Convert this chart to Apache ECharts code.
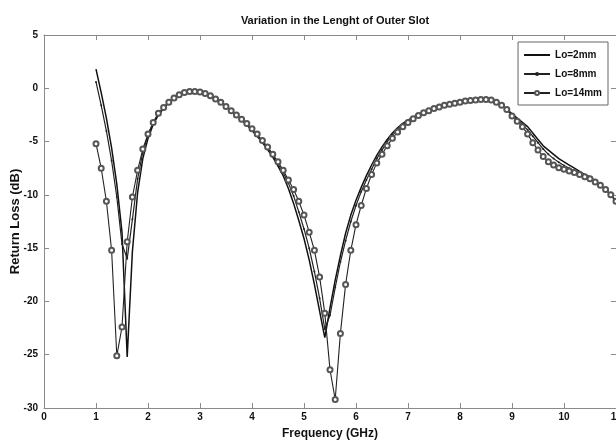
<!DOCTYPE html>
<html>
<head>
<meta charset="utf-8">
<title>Return Loss</title>
<script src="https://cdn.jsdelivr.net/npm/echarts@6/dist/echarts.min.js"></script>
<style>
html,body{margin:0;padding:0;background:#fff;}
#chart{width:616px;height:445px;}
</style>
</head>
<body>
<div id="chart"></div>
<script>
// frequency grid (GHz)
var freq = [1.0,1.1,1.2,1.3,1.4,1.5,1.6,1.7,1.8,1.9,
  2.0,2.1,2.2,2.3,2.4,2.5,2.6,2.7,2.8,2.9,
  3.0,3.1,3.2,3.3,3.4,3.5,3.6,3.7,3.8,3.9,
  4.0,4.1,4.2,4.3,4.4,4.5,4.6,4.7,4.8,4.9,
  5.0,5.1,5.2,5.3,5.4,5.5,5.6,5.7,5.8,5.9,
  6.0,6.1,6.2,6.3,6.4,6.5,6.6,6.7,6.8,6.9,
  7.0,7.1,7.2,7.3,7.4,7.5,7.6,7.7,7.8,7.9,
  8.0,8.1,8.2,8.3,8.4,8.5,8.6,8.7,8.8,8.9,
  9.0,9.1,9.2,9.3,9.4,9.5,9.6,9.7,9.8,9.9,
  10.0,10.1,10.2,10.3,10.4,10.5,10.6,10.7,10.8,10.9,11.0];

// return loss (dB)
var lo2 = [1.8,-0.4,-2.8,-5.6,-9.0,-13.5,-25.2,-15.3,-9.8,-6.6,
  -4.7,-3.4,-2.5,-1.9,-1.35,-0.9,-0.6,-0.4,-0.3,-0.3,
  -0.4,-0.55,-0.75,-1.05,-1.35,-1.75,-2.15,-2.55,-3.0,-3.45,
  -3.95,-4.5,-5.1,-5.75,-6.45,-7.3,-8.2,-9.4,-10.8,-12.4,
  -14.1,-16.1,-18.4,-20.9,-23.4,-20.6,-18.0,-15.7,-13.6,-11.9,
  -10.5,-9.3,-8.2,-7.2,-6.3,-5.5,-4.8,-4.2,-3.7,-3.3,
  -3.0,-2.7,-2.45,-2.25,-2.05,-1.9,-1.75,-1.6,-1.5,-1.4,
  -1.3,-1.22,-1.15,-1.1,-1.05,-1.05,-1.1,-1.3,-1.6,-1.95,
  -2.4,-2.8,-3.2,-3.6,-4.2,-4.8,-5.4,-5.8,-6.2,-6.6,
  -6.9,-7.2,-7.5,-7.8,-8.1,-8.3,-8.7,-9.1,-9.5,-10.0,-10.6];

var lo8 = [0.6,-1.6,-4.0,-6.8,-10.2,-14.6,-16.0,-12.3,-8.5,-6.0,
  -4.4,-3.2,-2.4,-1.8,-1.3,-0.9,-0.6,-0.4,-0.3,-0.3,
  -0.38,-0.52,-0.72,-1.0,-1.3,-1.7,-2.1,-2.5,-2.95,-3.4,
  -3.9,-4.4,-5.0,-5.6,-6.3,-7.1,-7.9,-8.9,-10.1,-11.6,
  -13.2,-15.0,-17.2,-19.7,-22.6,-21.3,-18.7,-16.3,-14.3,-12.5,
  -11.0,-9.7,-8.6,-7.6,-6.6,-5.8,-5.0,-4.4,-3.9,-3.45,
  -3.1,-2.8,-2.55,-2.3,-2.1,-1.9,-1.75,-1.6,-1.5,-1.4,
  -1.3,-1.22,-1.15,-1.1,-1.05,-1.05,-1.1,-1.3,-1.6,-2.0,
  -2.5,-2.95,-3.4,-3.9,-4.5,-5.1,-5.7,-6.2,-6.6,-6.95,
  -7.25,-7.5,-7.75,-8.0,-8.2,-8.45,-8.75,-9.1,-9.5,-10.0,-10.6];

var lo14 = [-5.2,-7.5,-10.6,-15.2,-25.1,-22.4,-14.4,-10.2,-7.7,-5.7,
  -4.3,-3.2,-2.35,-1.8,-1.3,-0.9,-0.6,-0.4,-0.3,-0.3,
  -0.35,-0.5,-0.7,-1.0,-1.3,-1.7,-2.1,-2.5,-2.9,-3.3,
  -3.8,-4.3,-4.9,-5.5,-6.2,-6.9,-7.7,-8.6,-9.5,-10.6,
  -11.9,-13.5,-15.2,-17.7,-21.1,-26.4,-29.2,-23.0,-18.4,-15.2,
  -12.8,-11.0,-9.4,-8.1,-7.0,-6.2,-5.4,-4.7,-4.1,-3.6,
  -3.2,-2.85,-2.55,-2.3,-2.1,-1.9,-1.75,-1.6,-1.5,-1.4,
  -1.3,-1.2,-1.15,-1.1,-1.05,-1.05,-1.1,-1.3,-1.6,-2.0,
  -2.6,-3.1,-3.6,-4.3,-5.1,-5.8,-6.4,-6.9,-7.2,-7.45,
  -7.6,-7.75,-7.9,-8.1,-8.3,-8.5,-8.8,-9.1,-9.5,-10.0,-10.6];

var names = ['Lo=2mm', 'Lo=8mm', 'Lo=14mm'];

function pairs(vals) {
  return freq.map(function (f, i) { return [f, vals[i]]; });
}

var font = "'Liberation Sans', Arial, sans-serif";
var axisGray = '#8a8a8a';

var myChart = echarts.init(document.getElementById('chart'));

var option = {
  backgroundColor: '#fff',
  animation: false,
  title: {
    text: 'Variation in the Lenght of Outer Slot',
    left: 330,
    top: 10,
    textAlign: 'center',
    textStyle: { fontFamily: font, fontSize: 11, fontWeight: 'bold', color: '#111' }
  },
  legend: {
    data: [
      { name: names[0], itemStyle: { opacity: 0 } },
      { name: names[1] },
      { name: names[2] }
    ],
    orient: 'vertical',
    right: 8,
    top: 42,
    itemWidth: 26,
    itemHeight: 5,
    itemGap: 9,
    padding: [8, 6, 7, 5],
    borderColor: '#666',
    borderWidth: 1,
    backgroundColor: '#fff',
    textStyle: { fontFamily: font, fontSize: 10, fontWeight: 'bold', color: '#111' }
  },
  grid: { left: 44, right: 0, top: 35, bottom: 37, outerBoundsMode: 'none' },
  xAxis: [{
    type: 'value',
    min: 0, max: 11, interval: 1,
    name: 'Frequency (GHz)',
    nameLocation: 'middle',
    nameGap: 20,
    nameTextStyle: { fontFamily: font, fontSize: 12, fontWeight: 'bold', color: '#111' },
    axisLine: { onZero: false, lineStyle: { color: axisGray, width: 1 } },
    axisTick: { inside: true, length: 5, lineStyle: { color: axisGray } },
    axisLabel: { fontFamily: font, fontSize: 10, fontWeight: 'bold', color: '#111', margin: 4 },
    splitLine: { show: false }
  }, {
    type: 'value',
    position: 'top',
    min: 0, max: 11, interval: 1,
    axisLine: { onZero: false, lineStyle: { color: axisGray, width: 1 } },
    axisTick: { inside: true, length: 5, lineStyle: { color: axisGray } },
    axisLabel: { show: false },
    splitLine: { show: false }
  }],
  yAxis: [{
    type: 'value',
    min: -30, max: 5, interval: 5,
    name: 'Return Loss (dB)',
    nameLocation: 'middle',
    nameGap: 22,
    nameMoveOverlap: false,
    nameTextStyle: { fontFamily: font, fontSize: 13, fontWeight: 'bold', color: '#111' },
    axisLine: { show: true, onZero: false, lineStyle: { color: axisGray, width: 1 } },
    axisTick: { show: true, inside: true, length: 5, lineStyle: { color: axisGray } },
    axisLabel: { fontFamily: font, fontSize: 10, fontWeight: 'bold', color: '#111', margin: 6 },
    splitLine: { show: false }
  }, {
    type: 'value',
    position: 'right',
    min: -30, max: 5, interval: 5,
    axisLine: { show: true, onZero: false, lineStyle: { color: axisGray, width: 1 } },
    axisTick: { show: true, inside: true, length: 5, lineStyle: { color: axisGray } },
    axisLabel: { show: false },
    splitLine: { show: false }
  }],
  series: [{
    name: names[0],
    type: 'line',
    data: pairs(lo2),
    showSymbol: false,
    symbol: 'none',
    lineStyle: { color: '#111', width: 1.5 },
    itemStyle: { color: '#111' },
    z: 3
  }, {
    name: names[1],
    type: 'line',
    data: pairs(lo8),
    symbol: 'circle',
    symbolSize: 2,
    showAllSymbol: true,
    lineStyle: { color: '#222', width: 1.2 },
    itemStyle: { color: '#222' },
    z: 4
  }, {
    name: names[2],
    type: 'line',
    data: pairs(lo14),
    symbol: 'emptyCircle',
    symbolSize: 5,
    showAllSymbol: true,
    lineStyle: { color: '#222', width: 1.1 },
    itemStyle: { color: '#555', borderColor: '#555', borderWidth: 0.8 },
    z: 5
  }]
};

myChart.setOption(option, true);
</script>
</body>
</html>
